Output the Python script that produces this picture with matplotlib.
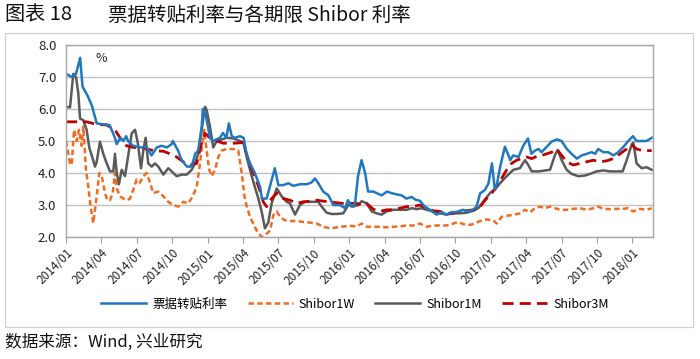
import matplotlib.pyplot as plt
from matplotlib.lines import Line2D
from matplotlib.patches import Rectangle

plt.rcParams['font.family'] = ['Noto Sans CJK SC', 'DejaVu Sans']

# time in months since 2014/01, rates in %
bill_t = [0.0, 0.5, 0.85, 1.2, 1.4, 1.85, 2.2, 2.6, 3.7, 4.15, 4.3, 4.6, 4.85, 5.1, 5.25, 5.7, 6.3, 6.85,
          7.25, 7.7, 8.1, 8.55, 8.95, 9.05, 9.5, 9.8, 10.25, 10.65, 10.95, 11.2, 11.5, 11.6, 11.85, 12.2,
          12.45, 13.05, 13.3, 13.6, 13.8, 14.05, 14.3, 14.75, 15.05, 15.3, 15.6, 16.0, 16.45, 16.6, 17.0,
          17.3, 17.7, 18.0, 18.4, 18.85, 19.25, 19.85, 20.4, 20.8, 21.1, 21.4, 21.8, 22.25, 22.65, 23.2,
          23.65, 23.9, 24.2, 24.5, 24.75, 25.05, 25.35, 25.6, 26.05, 26.35, 26.75, 27.2, 27.6, 28.05,
          28.45, 28.85, 29.3, 29.6, 30.0, 30.4, 30.85, 31.4, 31.85, 32.25, 32.7, 33.1, 33.65, 34.1, 34.5,
          34.8, 35.1, 35.25, 35.5, 35.8, 36.1, 36.35, 36.5, 36.8, 37.2, 37.5, 37.65, 37.9, 38.35, 38.75,
          39.15, 39.45, 39.75, 40.05, 40.3, 40.75, 41.15, 41.6, 42.0, 42.45, 42.85, 43.3, 43.7, 44.15,
          44.55, 44.85, 45.1, 45.55, 45.95, 46.4, 46.8, 47.25, 47.65, 48.05, 48.35, 48.8, 49.2, 49.65]
bill_v = [7.1, 7.0, 7.1, 7.6, 6.7, 6.4, 6.1, 5.55, 5.5, 5.1, 4.9, 5.1, 5.0, 5.15, 5.0, 4.85, 4.8, 4.8,
          4.55, 4.8, 4.85, 4.8, 4.9, 5.0, 4.7, 4.4, 4.2, 4.2, 4.6, 4.7, 5.45, 6.0, 5.8, 5.1,
          5.0, 5.1, 5.25, 5.1, 5.55, 5.15, 5.1, 5.15, 5.1, 4.6, 4.3, 4.0, 3.57, 3.2, 3.2,
          3.6, 4.15, 3.62, 3.62, 3.68, 3.6, 3.65, 3.65, 3.7, 3.83, 3.67, 3.42, 3.3, 3.0, 3.0,
          2.9, 3.15, 2.95, 3.05, 3.9, 4.4, 4.0, 3.42, 3.42, 3.37, 3.3, 3.42, 3.37, 3.33,
          3.3, 3.2, 3.25, 3.17, 3.13, 2.95, 2.85, 2.7, 2.78, 2.7, 2.78, 2.78, 2.85, 2.8, 2.85,
          2.95, 3.37, 3.4, 3.47, 3.67, 4.3, 3.47, 3.6, 4.2, 4.82, 4.55, 4.4, 4.55, 4.5, 4.85,
          5.08, 4.6, 4.7, 4.75, 4.65, 4.82, 4.98, 5.05, 5.0, 4.75, 4.6, 4.45, 4.55, 4.6,
          4.65, 4.6, 4.75, 4.65, 4.65, 4.55, 4.65, 4.82, 5.0, 5.15, 5.0, 5.0, 5.0, 5.1]

w1_t = [0.0, 0.19, 0.34, 0.48, 0.68, 0.91, 1.1, 1.33, 1.47, 1.69, 1.89, 2.09, 2.31, 2.6, 2.82, 3.03,
        3.31, 3.5, 3.73, 3.96, 4.15, 4.35, 4.58, 4.86, 5.14, 5.42, 5.7, 5.99, 6.27, 6.55, 6.84, 7.12,
        7.4, 7.82, 8.25, 8.67, 9.09, 9.52, 9.94, 10.36, 10.74, 11.08, 11.36, 11.58, 11.72, 11.92,
        12.14, 12.35, 12.63, 12.91, 13.19, 13.62, 14.18, 14.6, 14.89, 15.17, 15.59, 16.16, 16.58,
        17.0, 17.29, 17.57, 17.86, 18.14, 18.56, 18.98, 19.55, 20.11, 20.68, 21.25, 21.81, 22.37,
        22.94, 23.5, 24.07, 24.64, 25.06, 25.48, 26.04, 26.61, 27.18, 27.74, 28.31, 28.87, 29.43,
        30.0, 30.57, 31.13, 31.69, 32.26, 32.82, 33.25, 33.67, 34.24, 34.66, 35.08, 35.65, 36.21,
        36.5, 36.92, 37.48, 38.05, 38.47, 38.9, 39.32, 39.75, 40.17, 40.59, 41.02, 41.44, 41.86,
        42.43, 42.99, 43.56, 44.13, 44.69, 45.11, 45.53, 46.1, 46.67, 47.23, 47.65, 48.08, 48.64,
        49.21, 49.64]
w1_v = [5.0, 4.6, 4.3, 4.25, 5.35, 5.0, 5.35, 4.85, 5.45, 4.1, 3.57, 2.95, 2.43, 3.27, 4.0, 3.9,
        3.37, 3.15, 3.15, 3.37, 4.0, 3.47, 3.27, 3.2, 3.15, 3.2, 3.47, 3.8, 3.7, 3.9, 4.0, 3.7,
        3.37, 3.42, 3.27, 3.1, 3.0, 2.95, 3.1, 3.05, 3.27, 3.57, 4.3, 5.0, 5.35, 4.7,
        4.1, 3.9, 4.1, 4.5, 4.7, 4.75, 4.75, 4.7, 4.0, 3.15, 2.63, 2.2, 2.0,
        2.1, 2.2, 2.68, 2.8, 2.63, 2.52, 2.5, 2.5, 2.47, 2.45, 2.42, 2.32, 2.27,
        2.3, 2.33, 2.35, 2.33, 2.42, 2.32, 2.32, 2.32, 2.3, 2.32, 2.33, 2.36, 2.36,
        2.42, 2.32, 2.36, 2.36, 2.36, 2.42, 2.47, 2.4, 2.38, 2.42, 2.5, 2.55, 2.52,
        2.42, 2.63, 2.67, 2.7, 2.74, 2.85, 2.77, 2.9, 2.95, 2.9, 2.95, 2.9, 2.85,
        2.85, 2.88, 2.9, 2.85, 2.9, 2.95, 2.88, 2.87, 2.88, 2.88, 2.9, 2.8, 2.88,
        2.85, 2.9]

m1_t = [0.0, 0.34, 0.62, 0.85, 1.04, 1.19, 1.47, 1.75, 1.97, 2.18, 2.46, 2.6, 2.88, 3.16, 3.45, 3.73,
        4.01, 4.15, 4.3, 4.49, 4.72, 5.0, 5.28, 5.57, 5.85, 6.08, 6.36, 6.55, 6.75, 6.97, 7.26, 7.54,
        7.82, 8.25, 8.67, 8.96, 9.38, 9.81, 10.23, 10.65, 10.93, 11.21, 11.5, 11.78, 11.92, 12.2,
        12.48, 12.77, 13.19, 13.62, 14.18, 14.75, 15.03, 15.45, 15.87, 16.3, 16.58, 16.86, 17.14,
        17.43, 17.86, 18.28, 18.7, 18.98, 19.41, 19.83, 20.25, 20.82, 21.38, 21.67, 22.09, 22.52,
        22.94, 23.5, 23.92, 24.35, 24.77, 25.06, 25.48, 25.91, 26.33, 26.75, 27.18, 27.74, 28.3,
        28.87, 29.3, 29.72, 30.14, 30.57, 31.13, 31.69, 32.26, 32.82, 33.39, 33.96, 34.52, 34.94,
        35.36, 35.93, 36.36, 36.78, 37.35, 37.91, 38.47, 38.9, 39.18, 39.47, 40.03, 40.59, 41.02,
        41.44, 41.67, 42.01, 42.43, 42.86, 43.42, 43.98, 44.41, 44.97, 45.53, 46.1, 46.67, 47.18,
        47.52, 47.94, 48.08, 48.36, 48.79, 49.21, 49.64]
m1_v = [6.07, 6.05, 7.1, 7.0, 6.5, 5.7, 5.65, 5.35, 4.8, 4.55, 4.2, 4.35, 4.98, 4.6, 4.3, 4.05,
        4.05, 4.6, 4.0, 3.65, 4.1, 3.9, 4.55, 5.24, 5.35, 4.95, 4.15, 4.7, 5.1, 4.3, 4.2, 4.3,
        4.2, 3.95, 4.15, 4.05, 3.9, 3.95, 3.95, 4.1, 4.3, 4.6, 5.35, 6.07, 5.97, 5.45,
        4.8, 5.0, 5.05, 5.1, 5.08, 5.0, 4.95, 4.3, 3.73, 3.2, 2.8, 2.27, 2.45,
        3.05, 3.52, 3.27, 3.1, 3.05, 2.7, 3.0, 3.1, 3.1, 3.1, 2.95, 2.76, 2.72,
        2.72, 2.74, 3.0, 2.95, 3.0, 3.12, 3.05, 2.8, 2.74, 2.7, 2.8, 2.85, 2.85,
        2.85, 2.9, 2.87, 2.9, 2.85, 2.8, 2.74, 2.7, 2.74, 2.74, 2.76, 2.82, 2.9,
        3.1, 3.37, 3.5, 3.68, 3.9, 4.1, 4.15, 4.4, 4.25, 4.05, 4.05, 4.08, 4.1,
        4.56, 4.72, 4.4, 4.1, 3.97, 3.9, 3.92, 3.97, 4.05, 4.08, 4.05, 4.05, 4.05,
        4.4, 4.88, 4.95, 4.3, 4.15, 4.18, 4.1]

m3_t = [0.0, 1.19, 1.75, 2.6, 3.45, 4.15, 4.58, 5.14, 5.7, 6.55, 7.4, 8.25, 8.81, 9.38, 9.94, 10.51,
        11.08, 11.5, 11.78, 12.2, 12.77, 13.33, 14.18, 15.03, 15.45, 15.87, 16.3, 16.72, 17.0, 17.43,
        17.86, 18.42, 18.98, 19.55, 20.11, 20.68, 21.25, 21.81, 22.37, 22.94, 23.5, 24.07, 24.64,
        25.06, 25.48, 26.04, 26.61, 27.18, 27.74, 28.31, 28.87, 29.43, 30.0, 30.57, 31.13, 31.69,
        32.26, 32.82, 33.39, 33.96, 34.52, 35.03, 35.51, 36.08, 36.5, 36.92, 37.35, 37.77, 38.19,
        38.62, 39.04, 39.47, 39.89, 40.31, 40.74, 41.16, 41.58, 42.01, 42.43, 42.99, 43.56, 44.13,
        44.69, 45.25, 45.82, 46.38, 46.95, 47.52, 47.94, 48.36, 48.92, 49.64]
m3_v = [5.6, 5.6, 5.6, 5.52, 5.5, 5.35, 5.1, 4.85, 4.8, 4.78, 4.7, 4.68, 4.6, 4.5, 4.35, 4.25,
        4.3, 4.95, 5.24, 5.1, 5.0, 4.93, 4.93, 4.95, 4.4, 4.0, 3.6, 3.1, 2.95, 3.2,
        3.37, 3.2, 3.15, 3.05, 3.1, 3.12, 3.15, 3.12, 3.1, 3.07, 3.05, 3.05, 3.05,
        3.0, 3.05, 2.87, 2.8, 2.85, 2.85, 2.9, 2.95, 2.95, 3.0, 2.9, 2.82, 2.8,
        2.74, 2.74, 2.8, 2.82, 2.85, 2.9, 3.15, 3.37, 3.57, 3.83, 4.1, 4.3, 4.4,
        4.45, 4.5, 4.45, 4.52, 4.55, 4.6, 4.65, 4.75, 4.55, 4.35, 4.25, 4.3, 4.35,
        4.4, 4.35, 4.38, 4.45, 4.6, 4.75, 4.88, 4.75, 4.7, 4.7]

tick_months = list(range(0, 49, 3))
tick_labels = ['2014/01', '2014/04', '2014/07', '2014/10', '2015/01', '2015/04', '2015/07',
               '2015/10', '2016/01', '2016/04', '2016/07', '2016/10', '2017/01', '2017/04',
               '2017/07', '2017/10', '2018/01']
series_names = ['票据转贴利率', 'Shibor1W', 'Shibor1M', 'Shibor3M']

fig = plt.figure(figsize=(7, 3.59), dpi=100)
ax = fig.add_axes([66 / 700, 1 - 237 / 359, 587 / 700, 192 / 359])

# outer chart frame
fig.patches.append(Rectangle((5 / 700, 1 - 327 / 359), 688 / 700, 294 / 359,
                             transform=fig.transFigure, fill=False,
                             edgecolor='#d0d0d0', linewidth=0.9))

ax.plot(w1_t, w1_v, color='#f26b21', linewidth=1.8, dashes=(2.2, 1.3), label=series_names[1])
ax.plot(m1_t, m1_v, color='#5a5a5a', linewidth=1.8, label=series_names[2])
ax.plot(m3_t, m3_v, color='#c00000', linewidth=2.0, dashes=(4, 2.2), label=series_names[3])
ax.plot(bill_t, bill_v, color='#1f78c1', linewidth=1.8, label=series_names[0])

ax.set_xlim(0, 49.75)
ax.set_ylim(2.0, 8.0)
ax.set_yticks([2, 3, 4, 5, 6, 7, 8])
ax.set_yticklabels([f'{v:.1f}' for v in [2, 3, 4, 5, 6, 7, 8]], fontsize=9.5, color='#222222')
ax.set_xticks(tick_months)
ax.set_xticklabels(tick_labels, rotation=45, ha='right', rotation_mode='anchor',
                   fontsize=8.5, color='#222222')
ax.tick_params(axis='y', length=0, pad=7)
ax.tick_params(axis='x', length=4, color='#a0a0a0', pad=3)
ax.grid(axis='y', color='#c0c0c0', linewidth=1.0)
ax.set_axisbelow(True)
for s in ax.spines.values():
    s.set_color('#a6a6a6')
    s.set_linewidth(1.0)

ax.text(0.05, 0.93, '%', transform=ax.transAxes, fontsize=9, color='#222222', va='center')

handles = [Line2D([], [], color='#1f78c1', linewidth=1.8),
           Line2D([], [], color='#f26b21', linewidth=1.8, dashes=(2.2, 1.3)),
           Line2D([], [], color='#5a5a5a', linewidth=1.8),
           Line2D([], [], color='#c00000', linewidth=2.0, dashes=(4, 2.2))]
fig.legend(handles, series_names, loc='center', bbox_to_anchor=(355 / 700, 1 - 304 / 359),
           ncol=4, frameon=False, fontsize=9, handlelength=3.6, columnspacing=1.6,
           handletextpad=0.5)

fig.text(5 / 700, 1 - 15 / 359, '图表 18', fontsize=14.5, va='center', ha='left', color='#111111')
fig.text(108 / 700, 1 - 15 / 359, '票据转贴利率与各期限 Shibor 利率', fontsize=14,
         va='center', ha='left', color='#111111')
fig.text(5 / 700, 1 - 342 / 359, '数据来源：Wind, 兴业研究', fontsize=12, va='center',
         ha='left', color='#111111')

fig.savefig('out.png', dpi=100)
